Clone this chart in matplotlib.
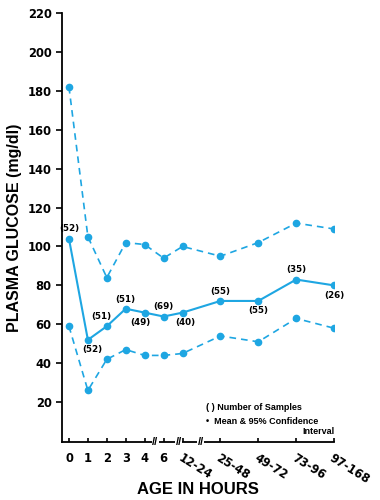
import matplotlib
matplotlib.use("Agg")
import matplotlib.pyplot as plt

plt.rcParams["font.family"] = ["Liberation Sans", "DejaVu Sans"]
plt.rcParams["font.weight"] = "bold"

BLUE = "#1ea6e2"

# age groups (hours) and plasma glucose (mg/dl)
age_labels = ["0", "1", "2", "3", "4", "6", "12-24", "25-48", "49-72", "73-96", "97-168"]
age_pos = [0, 1, 2, 3, 4, 5, 6, 8, 10, 12, 14]
mean_glucose = [104, 52, 59, 68, 66, 64, 66, 72, 72, 83, 80]
upper_ci = [182, 105, 84, 102, 101, 94, 100, 95, 102, 112, 109]
lower_ci = [59, 26, 42, 47, 44, 44, 45, 54, 51, 63, 58]
n_samples = [52, 52, 51, 51, 49, 69, 40, 55, 55, 35, 26]
# +1 label above the point, -1 below
label_side = [1, -1, 1, 1, -1, 1, -1, 1, -1, 1, -1]
label_dx = [0, 3, -4, 0, -3, 0, 2, 0, 0, 0, 0]
breaks = [4.55, 5.8, 6.95]


def draw_chart():
    """ Draw the glucose-by-age chart and return the figure. """
    fig = plt.figure(figsize=(3.8, 5.0), dpi=100)
    ax = fig.add_axes([0.163, 0.116, 0.716, 0.858])

    ax.plot(age_pos, upper_ci, color=BLUE, lw=1.2, ls=(0, (4, 3)),
            marker="o", ms=4.5)
    ax.plot(age_pos, lower_ci, color=BLUE, lw=1.2, ls=(0, (4, 3)),
            marker="o", ms=4.5)
    ax.plot(age_pos, mean_glucose, color=BLUE, lw=1.5, marker="o", ms=4.5)

    for x, y, n, side, dx in zip(age_pos, mean_glucose, n_samples,
                                 label_side, label_dx):
        ax.annotate(f"({n})", xy=(x, y), xytext=(dx, 7 * side),
                    textcoords="offset points", ha="center",
                    va="center", fontsize=6.3, fontweight="bold",
                    family="DejaVu Sans")

    ax.set_xlim(-0.37, 14)
    ax.set_ylim(-0.5, 220)
    ax.spines["top"].set_visible(False)
    ax.spines["right"].set_visible(False)
    ax.spines["left"].set_bounds(-0.5, 220)
    for side in ("left", "bottom"):
        ax.spines[side].set_linewidth(1.3)

    ax.set_yticks(range(20, 221, 20))
    ax.tick_params(axis="y", direction="out", length=4, width=1.2,
                   labelsize=8.3)
    ax.set_xticks(age_pos)
    ax.set_xticklabels(age_labels)
    ax.tick_params(axis="x", direction="in", length=3, width=1.2,
                   labelsize=8.3, pad=7)
    for lab in ax.get_yticklabels() + ax.get_xticklabels():
        lab.set_family("DejaVu Sans")
    for lab, text in zip(ax.get_xticklabels(), age_labels):
        if "-" in text:
            lab.set_rotation(-32)
            lab.set_ha("left")
            lab.set_va("top")
            lab.set_rotation_mode("anchor")

    for b in breaks:
        ax.text(b, -0.5, "//", ha="center", va="center", fontsize=8,
                fontweight="bold", clip_on=False,
                bbox=dict(facecolor="white", edgecolor="none", pad=0.2))

    ax.set_ylabel("PLASMA GLUCOSE (mg/dl)", fontsize=11.5,
                  fontweight="bold")
    ax.yaxis.set_label_coords(-0.145, 0.5)
    fig.text(0.52, 0.006, "AGE IN HOURS", ha="center", va="bottom",
             fontsize=12, fontweight="bold")

    fig.text(0.543, 0.186, "( ) Number of Samples", fontsize=6.5,
             fontweight="bold", va="center")
    fig.text(0.543, 0.158, "\u2022  Mean & 95% Confidence", fontsize=6.5,
             fontweight="bold", va="center")
    fig.text(0.879, 0.136, "Interval", fontsize=6.5, fontweight="bold",
             va="center", ha="right")
    return fig


fig = draw_chart()
fig.savefig("out.png", dpi=100)
